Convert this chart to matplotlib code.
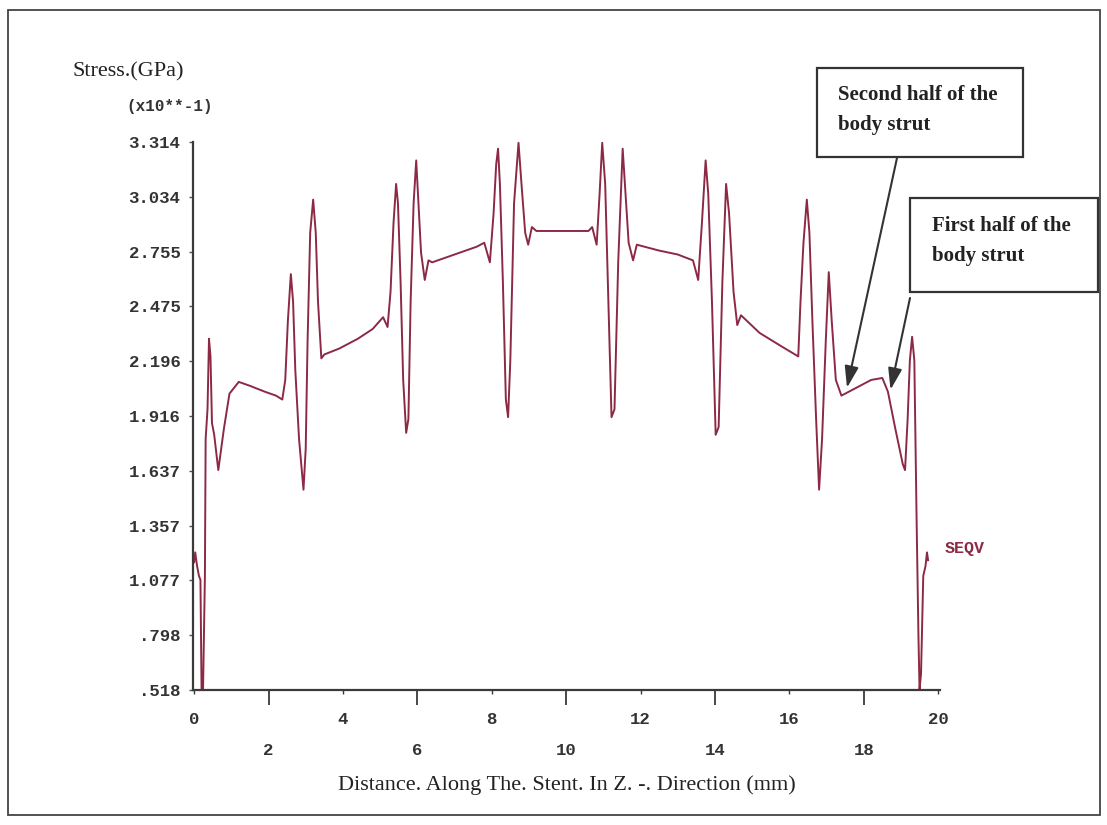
import matplotlib
matplotlib.use("Agg")
import matplotlib.pyplot as plt
from matplotlib.patches import Rectangle

# ---- data (distance in mm, SEQV in GPa x10**-1) ----
dist_mm = [
    0.00, 0.03, 0.08, 0.13, 0.17, 0.20, 0.24, 0.29, 0.31, 0.36, 0.40, 0.44, 0.48, 0.54, 0.65,
    0.80, 0.95, 1.20, 1.50, 1.90, 2.20, 2.37, 2.45, 2.52, 2.60, 2.66, 2.72, 2.82, 2.94, 3.00,
    3.05, 3.12, 3.20, 3.27, 3.33, 3.42, 3.50, 3.90, 4.40, 4.80, 5.08, 5.20, 5.28, 5.36, 5.43,
    5.48, 5.55, 5.62, 5.70, 5.76, 5.82, 5.90, 5.97, 6.03, 6.10, 6.20, 6.30, 6.40, 7.00, 7.60,
    7.80, 7.95, 8.05, 8.12, 8.17, 8.22, 8.30, 8.38, 8.44, 8.50, 8.60, 8.72, 8.80, 8.90, 8.98,
    9.08, 9.20, 10.00, 10.60, 10.70, 10.82, 10.90, 10.97, 11.05, 11.15, 11.22, 11.30, 11.40,
    11.52, 11.58, 11.68, 11.80, 11.90, 12.50, 13.00, 13.41, 13.55, 13.65, 13.75, 13.82, 13.92,
    14.02, 14.10, 14.20, 14.30, 14.38, 14.50, 14.60, 14.70, 15.20, 15.80, 16.24, 16.30, 16.38,
    16.47, 16.54, 16.62, 16.72, 16.80, 16.88, 16.98, 17.06, 17.14, 17.25, 17.40, 17.80, 18.20,
    18.50, 18.65, 18.85, 19.05, 19.11, 19.18, 19.24, 19.30, 19.36, 19.42, 19.47, 19.50, 19.54,
    19.60, 19.66, 19.70, 19.73,
]
seqv = [
    1.17, 1.22, 1.15, 1.10, 1.08, 0.52, 0.52, 1.10, 1.80, 1.95, 2.31, 2.22, 1.88, 1.82, 1.64,
    1.85, 2.03, 2.09, 2.07, 2.04, 2.02, 2.00, 2.10, 2.40, 2.64, 2.50, 2.15, 1.80, 1.54, 1.75,
    2.30, 2.85, 3.02, 2.85, 2.50, 2.21, 2.23, 2.26, 2.31, 2.36, 2.42, 2.37, 2.55, 2.90, 3.10,
    3.00, 2.60, 2.10, 1.83, 1.90, 2.50, 3.00, 3.22, 3.00, 2.75, 2.61, 2.71, 2.70, 2.74, 2.78,
    2.80, 2.70, 2.95, 3.20, 3.28, 3.10, 2.60, 2.00, 1.91, 2.20, 3.00, 3.31, 3.10, 2.85, 2.79,
    2.88, 2.86, 2.86, 2.86, 2.88, 2.79, 3.05, 3.31, 3.10, 2.40, 1.91, 1.95, 2.70,
    3.28, 3.10, 2.80, 2.71, 2.79, 2.76, 2.74, 2.71, 2.61, 2.90, 3.22, 3.05, 2.50,
    1.82, 1.86, 2.60, 3.10, 2.95, 2.55, 2.38, 2.43, 2.34, 2.27, 2.22, 2.50, 2.80,
    3.02, 2.85, 2.40, 1.90, 1.54, 1.80, 2.30, 2.65, 2.40, 2.10, 2.02, 2.06, 2.10,
    2.11, 2.04, 1.85, 1.67, 1.64, 1.90, 2.20, 2.32, 2.20, 1.40, 0.80, 0.52, 0.60,
    1.10, 1.15, 1.22, 1.18,
]

y_tick_values = [0.518, 0.7976, 1.0772, 1.3568, 1.6364, 1.916, 2.1956, 2.4752, 2.7548, 3.0344, 3.314]
y_tick_labels = [".518", ".798", "1.077", "1.357", "1.637", "1.916", "2.196", "2.475", "2.755", "3.034", "3.314"]
x_upper_ticks = [0, 4, 8, 12, 16, 20]
x_lower_ticks = [2, 6, 10, 14, 18]

y_title = "Stress.(GPa)"
y_scale = "(x10**-1)"
x_title = "Distance. Along The. Stent. In Z. -. Direction (mm)"
series_name = "SEQV"
note_second = "Second half of the\nbody strut"
note_first = "First half of the\nbody strut"
note_second_xy = (17.55, 2.06)
note_first_xy = (18.72, 2.05)

W, H = 1107, 825
LINE = "#8c2a45"
INK = "#333333"
MONO = ["Liberation Mono", "DejaVu Sans Mono"]
SERIF = ["Liberation Serif", "DejaVu Serif"]

fig = plt.figure(figsize=(W / 100, H / 100), dpi=100)
fig.patch.set_facecolor("white")

# outer frame
fig.add_artist(Rectangle((8 / W, 10 / H), (1100 - 8) / W, (815 - 10) / H,
                         transform=fig.transFigure, fill=False, edgecolor="#444444", lw=1.3))

ax = fig.add_axes([193 / W, (H - 690) / H, (940 - 193) / W, (690 - 142) / H])
ax.plot(dist_mm, seqv, color=LINE, lw=1.4, clip_on=False)
ax.set_xlim(-0.03, 20.05)
ax.set_ylim(0.518, 3.314)

for s in ["top", "right"]:
    ax.spines[s].set_visible(False)
for s in ["left", "bottom"]:
    ax.spines[s].set_color("#3a3a3a")
    ax.spines[s].set_linewidth(1.6)

ax.set_yticks(y_tick_values, y_tick_labels)
ax.tick_params(axis="y", length=3, width=1, colors="#555555", pad=6, labelsize=12.5,
               labelcolor=INK)
ax.set_xticks(x_lower_ticks, [str(v) for v in x_lower_ticks])
ax.set_xticks(x_upper_ticks, [str(v) for v in x_upper_ticks], minor=True)
ax.tick_params(axis="x", which="major", length=11, width=1.3, colors="#3a3a3a",
               pad=27, labelsize=12.5, labelcolor=INK)
ax.tick_params(axis="x", which="minor", length=3, width=1, colors="#3a3a3a",
               pad=13, labelsize=12.5, labelcolor=INK)
for lab in ax.get_yticklabels() + ax.get_xticklabels() + ax.get_xticklabels(minor=True):
    lab.set_family(MONO)
    lab.set_fontweight("bold")

fig.text(72 / W, (H - 72) / H, y_title, family=SERIF, fontsize=16, color="#222222",
         ha="left", va="center")
fig.text(126 / W, (H - 106) / H, y_scale, family=MONO, fontsize=11.5, fontweight="bold",
         color=INK, ha="left", va="center")
fig.text(567 / W, (H - 785) / H, x_title, family=SERIF, fontsize=16, color="#222222",
         ha="center", va="center")
fig.text(945 / W, (H - 548) / H, series_name, family=MONO, fontsize=12, fontweight="bold",
         color=LINE, ha="left", va="center")

# annotation boxes
fig.add_artist(Rectangle((817 / W, (H - 157) / H), (1023 - 817) / W, (157 - 68) / H,
                         transform=fig.transFigure, fill=True, facecolor="white",
                         edgecolor="#333333", lw=1.6))
fig.add_artist(Rectangle((910 / W, (H - 292) / H), (1098 - 910) / W, (292 - 198) / H,
                         transform=fig.transFigure, fill=True, facecolor="white",
                         edgecolor="#333333", lw=1.6))
fig.text(838 / W, (H - 110) / H, note_second, family=SERIF, fontsize=15, fontweight="bold",
         color="#222222", ha="left", va="center", linespacing=1.7)
fig.text(932 / W, (H - 241) / H, note_first, family=SERIF, fontsize=15, fontweight="bold",
         color="#222222", ha="left", va="center", linespacing=1.7)

arrow_kw = dict(arrowstyle="-|>,head_length=1.3,head_width=0.42", color="#333333", lw=1.5,
                shrinkA=0, shrinkB=0)
ax.annotate("", xy=note_second_xy, xycoords="data",
            xytext=(897, H - 158), textcoords="figure pixels", arrowprops=arrow_kw,
            annotation_clip=False)
ax.annotate("", xy=note_first_xy, xycoords="data",
            xytext=(910, H - 298), textcoords="figure pixels", arrowprops=arrow_kw,
            annotation_clip=False)

fig.savefig("out.png", dpi=100, facecolor="white")
